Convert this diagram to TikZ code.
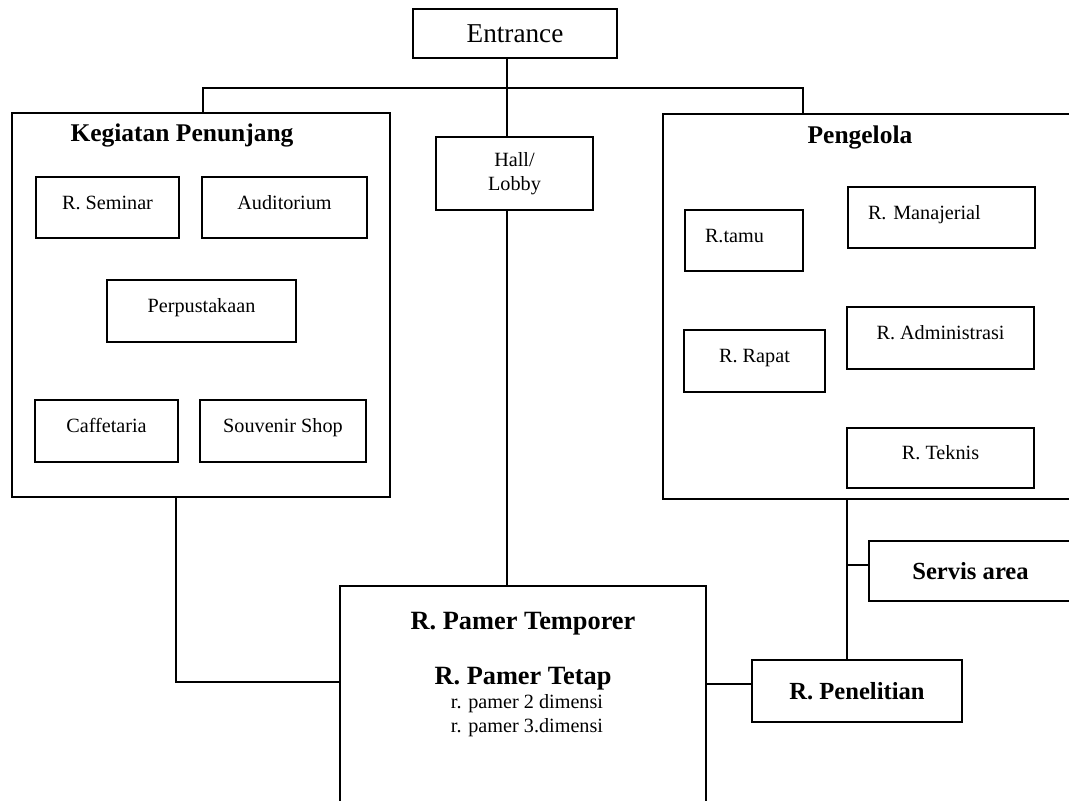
\documentclass[tikz,border=0pt]{standalone}
\usepackage{fontspec}
\setmainfont{Liberation Serif}
\usetikzlibrary{positioning}

\begin{document}
\begin{tikzpicture}[x=0.02cm, y=-0.02cm,
  dims/.style 2 args={minimum width=#1cm, minimum height=#2cm},
  box/.style={draw=black, line width=1pt, inner sep=0pt, font=\fontsize{11.5}{13.8}\selectfont},
  room/.style={box, text height=1.6ex, text depth=1.2ex},
  big/.style={box, font=\fontsize{14}{16}\selectfont\bfseries},
  title/.style={inner sep=0pt, font=\fontsize{14.5}{17}\selectfont\bfseries},
  txt/.style={inner sep=0pt, font=\fontsize{11.5}{13.8}\selectfont},
  link/.style={line width=1pt}]
\useasboundingbox (0,0) rectangle (1069,801);
\clip (0,0) rectangle (1069,801);

% entrance and hall
\node[box, dims={4.08}{0.98}, font=\fontsize{15.5}{18}\selectfont] (entrance) at (515,33.5) {Entrance};
\node[box, dims={3.14}{1.46}, align=center] (hall) at (514.5,173.5) {Hall/\\Lobby};

% kegiatan penunjang
\node[box, dims={7.56}{7.68}] (kegiatan) at (201,305) {};
\node[title] (kegTitle) at (182,135) {Kegiatan Penunjang};
\node[room, dims={2.86}{1.22}] (seminar) at (107.5,207.5) {R. Seminar};
\node[room, dims={3.30}{1.22}] (auditorium) at (284.5,207.5) {Auditorium};
\node[room, dims={3.78}{1.24}] (perpus) at (201.5,311) {Perpustakaan};
\node[room, dims={2.86}{1.24}] (caffe) at (106.5,431) {Caffetaria};
\node[room, dims={3.32}{1.24}] (souvenir) at (283,431) {Souvenir Shop};

% pengelola
\node[box, dims={8.18}{7.70}] (pengelola) at (867.5,306.5) {};
\node[title] (pengTitle) at (860,137) {Pengelola};
\node[room, dims={2.36}{1.22}, text width=1.56cm, align=left] (tamu) at (744,240.5) {R.tamu};
\node[room, dims={3.74}{1.22}, text width=2.94cm, align=left] (manajerial) at (941.5,217.5) {R. Manajerial};
\node[room, dims={2.82}{1.24}] (rapat) at (754.5,361) {R. Rapat};
\node[room, dims={3.74}{1.24}] (admin) at (940.5,338) {R. Administrasi};
\node[room, dims={3.74}{1.20}] (teknis) at (940.5,458) {R. Teknis};

% servis, penelitian
\node[big, dims={4.06}{1.20}] (servis) at (970.5,571) {Servis area};
\node[big, dims={4.20}{1.24}] (penelitian) at (857,691) {R. Penelitian};

% ruang pamer
\node[box, dims={7.32}{4.88}] (pamer) at (523,708) {};
\node[title, font=\fontsize{15}{18}\selectfont\bfseries] (pamTemp) at (523,624) {R. Pamer Temporer};
\node[title, font=\fontsize{15}{18}\selectfont\bfseries] (pamTetap) at (523,679) {R. Pamer Tetap};
\node[txt] (dim2) at (527,704) {r. pamer 2 dimensi};
\node[txt, below=2.5pt of dim2.south, anchor=north] (dim3) {r. pamer 3.dimensi};

% connectors
\coordinate (trunk) at (507,88);
\coordinate (jl) at (203,88);
\coordinate (jr) at (803,88);
\draw[link] (trunk |- entrance.south) -- (trunk);
\draw[link] (jl |- kegiatan.north) -- (jl) -- (jr) -- (jr |- pengelola.north);
\draw[link] (trunk) -- (trunk |- hall.north);
\draw[link] (trunk |- hall.south) -- (trunk |- pamer.north);
\coordinate (lbend) at (176,682);
\draw[link] (lbend |- kegiatan.south) -- (lbend) -- (lbend -| pamer.west);
\coordinate (rv) at (847,565);
\draw[link] (rv |- pengelola.south) -- (rv |- penelitian.north);
\draw[link] (rv) -- (rv -| servis.west);
\coordinate (rh) at (720,684);
\draw[link] (rh -| pamer.east) -- (rh -| penelitian.west);
\end{tikzpicture}
\end{document}
